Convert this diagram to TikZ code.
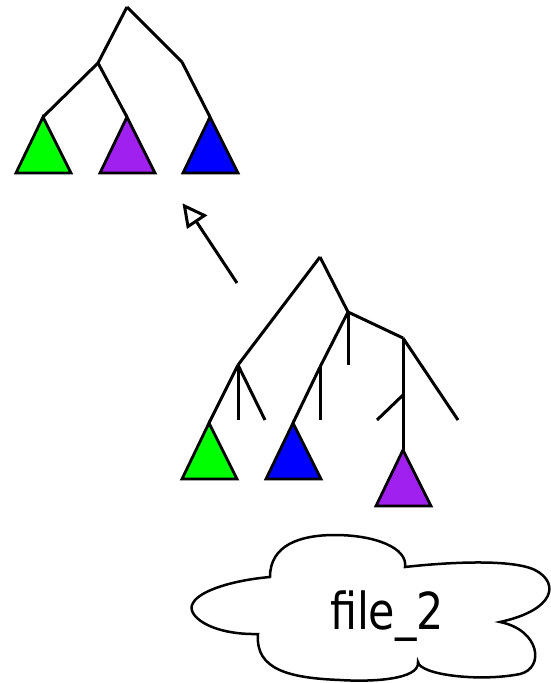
\documentclass[tikz,border=0pt]{standalone}
\usepackage{fontspec}
\newfontfamily\cloudfont[FakeStretch=0.84]{DejaVu Sans}
\definecolor{treepurple}{RGB}{160,32,240}

\begin{document}
\begin{tikzpicture}[x=1pt, y=-1pt, line width=3pt, subtree/.style={draw=black,line width=2.8pt,line join=miter}]
\useasboundingbox (0,0) rectangle (551,683);
% upper tree
\coordinate (t0) at (127,7);
\coordinate (t1) at (98,63);
\coordinate (t2) at (182,62);
\coordinate (tg) at (43,117);
\coordinate (tp) at (127,117);
\coordinate (tb) at (210,117);
% lower tree
\coordinate (b0) at (320,257);
\coordinate (b1) at (238,365);
\coordinate (b2) at (348,312);
\coordinate (b3) at (320,367);
\coordinate (b4) at (403,338);
\coordinate (b5) at (403,395);
\coordinate (s1) at (238,420);
\coordinate (s2) at (265,420);
\coordinate (s3) at (348,365);
\coordinate (s4) at (320,420);
\coordinate (s5) at (377,420);
\coordinate (s6) at (458,420);
\coordinate (bg) at (209,423);
\coordinate (bb) at (293,423);
\coordinate (bp) at (403,450);
% arrow: tail, head base and head corners
\coordinate (a0) at (237,283);
\coordinate (am) at (196,221);
\coordinate (ah) at (184.5,206);
\coordinate (al) at (188,226.5);
\coordinate (ar) at (204.5,215.5);
\begin{scope}[every edge/.style={draw=black,line width=3pt}]
\draw (t0) edge (t1);
\draw (t0) edge (t2);
\draw (t1) edge (tg);
\draw (t1) edge (tp);
\draw (t2) edge (tb);
\draw (b0) edge (b1);
\draw (b0) edge (b2);
\draw (b1) edge (bg);
\draw (b1) edge (s1);
\draw (b1) edge (s2);
\draw (b2) edge (s3);
\draw (b2) edge (b3);
\draw (b3) edge (bb);
\draw (b3) edge (s4);
\draw (b2) edge (b4);
\draw (b4) edge (b5);
\draw (b5) edge (bp);
\draw (b5) edge (s5);
\draw (b4) edge (s6);
\draw (a0) edge (am);
\end{scope}
\foreach \apex/\col in {tg/green,tp/treepurple,tb/blue,bg/green,bb/blue,bp/treepurple}
  \draw[subtree,fill=\col] (\apex) -- ++(-27,56) -- ++(55,0) -- cycle;
\draw[line join=miter,fill=white] (ah) -- (al) -- (ar) -- cycle;
% cloud
\draw[line width=2.5pt] (270,577) .. controls (270,545) and (300,535) .. (335,535)
  .. controls (375,535) and (408,548) .. (405,567)
  .. controls (440,563) and (510,558) .. (535,570)
  .. controls (560,583) and (555,610) .. (500,622)
  .. controls (540,630) and (545,668) .. (520,674)
  .. controls (480,682) and (420,675) .. (418,662)
  .. controls (420,680) and (370,682) .. (340,680)
  .. controls (290,678) and (255,670) .. (258,634)
  .. controls (210,635) and (185,615) .. (193,603)
  .. controls (200,590) and (235,580) .. cycle;
\node[font=\cloudfont\fontsize{51}{60}\selectfont,anchor=base] (file) at (387,629) {file\_2};
\end{tikzpicture}
\end{document}
